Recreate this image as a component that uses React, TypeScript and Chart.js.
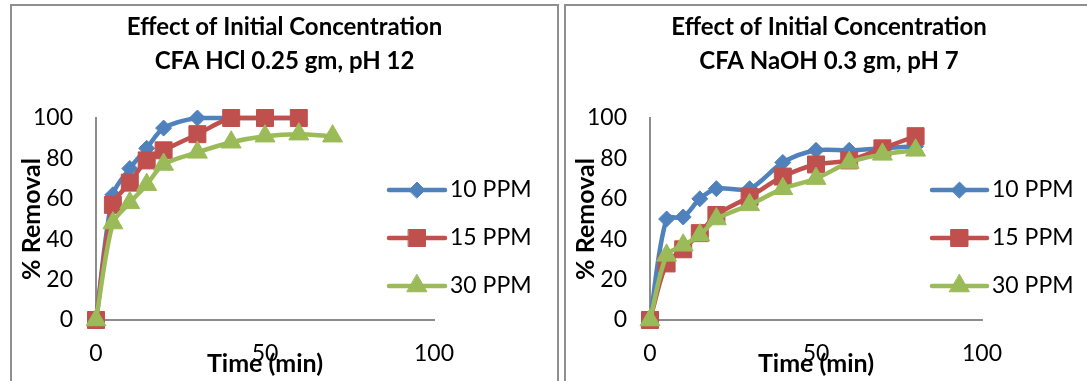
import React, { useEffect, useRef } from "react";
import { Chart, registerables } from "chart.js";

Chart.register(...registerables);

// Contact time (min) and % removal, CFA HCl 0.25 gm, pH 12
const hclTime10 = [0, 5, 10, 15, 20, 30, 40, 50, 60];
const hclTime15 = [0, 5, 10, 15, 20, 30, 40, 50, 60];
const hclTime30 = [0, 5, 10, 15, 20, 30, 40, 50, 60, 70];
const hclRemoval10 = [0, 62, 75, 85, 95, 100, 100, 100, 100];
const hclRemoval15 = [0, 57, 68, 79, 84, 92, 100, 100, 100];
const hclRemoval30 = [0, 48, 58, 67, 77, 83, 88, 91, 92, 91];

// Contact time (min) and % removal, CFA NaOH 0.3 gm, pH 7
const naohTime = [0, 5, 10, 15, 20, 30, 40, 50, 60, 70, 80];
const naohRemoval10 = [0, 50, 51, 60, 65, 65, 78, 84, 84, 85, 86];
const naohRemoval15 = [0, 28, 35, 43, 52, 61, 71, 77, 79, 85, 91];
const naohRemoval30 = [0, 32, 37, 42, 50, 57, 65, 70, 78, 82, 84];

const seriesNames = ["10 PPM", "15 PPM", "30 PPM"];
const xTickValues = [0, 50, 100];
const yTickValues = [0, 20, 40, 60, 80, 100];

const titleHeading = "Effect of Initial Concentration";
const hclSubtitle = "CFA HCl 0.25 gm, pH 12";
const naohSubtitle = "CFA NaOH 0.3 gm, pH 7";
const xAxisTitle = "Time (min)";
const yAxisTitle = "% Removal";

const FONT = "Lato, 'Open Sans', sans-serif";
const BLUE = "#4F81BD";
const RED = "#C0504D";
const GREEN = "#9BBB59";
const AXIS = "#8c8c8c";
const LINE_W = 4.5;
const LABEL_SIZE = 23;
const AXIS_TITLE_SIZE = 25;
const TITLE_SIZE = 24;

type MarkerStyle = "rectRot" | "rect" | "triangle";

interface Series {
  name: string;
  time: number[];
  removal: number[];
  color: string;
  style: MarkerStyle;
  radius: number;
}

interface Geom {
  width: number;
  height: number;
  plotLeft: number;
  plotRight: number;
  plotTop: number;
  plotBottom: number;
  titleX: number;
  titleY: number[];
  legendX0: number;
  legendX1: number;
  legendText: number;
  legendY: number;
  legendGap: number;
}

const markerStyles: MarkerStyle[] = ["rectRot", "rect", "triangle"];
const markerRadii = [8, 12, 11.5];
const seriesColors = [BLUE, RED, GREEN];

function buildSeries(times: number[][], values: number[][]): Series[] {
  return values.map((v, i) => ({
    name: seriesNames[i],
    time: times[i],
    removal: v,
    color: seriesColors[i],
    style: markerStyles[i],
    radius: markerRadii[i],
  }));
}

// Same marker geometry as Chart.js point styles, for the legend swatches
function drawMarker(ctx: CanvasRenderingContext2D, style: MarkerStyle, x: number, y: number, r: number) {
  ctx.beginPath();
  if (style === "rectRot") {
    ctx.moveTo(x - r, y);
    ctx.lineTo(x, y - r);
    ctx.lineTo(x + r, y);
    ctx.lineTo(x, y + r);
  } else if (style === "rect") {
    const s = r * Math.SQRT1_2;
    ctx.rect(x - s, y - s, 2 * s, 2 * s);
  } else {
    let a = 0;
    for (let k = 0; k < 3; k++) {
      const px = x + Math.sin(a) * r;
      const py = y - Math.cos(a) * r;
      if (k === 0) ctx.moveTo(px, py);
      else ctx.lineTo(px, py);
      a += (2 * Math.PI) / 3;
    }
  }
  ctx.closePath();
  ctx.fill();
  ctx.stroke();
}

function Panel(props: { left: number; boxWidth: number; subtitle: string; series: Series[]; geom: Geom }) {
  const ref = useRef<HTMLCanvasElement>(null);
  const { left, boxWidth, subtitle, series, geom } = props;

  useEffect(() => {
    const canvas = ref.current;
    if (!canvas) return;

    const decor = {
      id: "panelDecor",
      afterDraw(chart: Chart) {
        const ctx = chart.ctx;
        ctx.save();
        ctx.fillStyle = "#000";
        ctx.textAlign = "center";
        ctx.textBaseline = "middle";
        ctx.font = `bold ${TITLE_SIZE}px ${FONT}`;
        [titleHeading, subtitle].forEach((t, i) => ctx.fillText(t, geom.titleX, geom.titleY[i]));

        series.forEach((s, i) => {
          const y = geom.legendY + i * geom.legendGap;
          ctx.strokeStyle = s.color;
          ctx.fillStyle = s.color;
          ctx.lineWidth = LINE_W;
          ctx.lineCap = "round";
          ctx.beginPath();
          ctx.moveTo(geom.legendX0, y);
          ctx.lineTo(geom.legendX1, y);
          ctx.stroke();
          ctx.lineWidth = 1;
          drawMarker(ctx, s.style, (geom.legendX0 + geom.legendX1) / 2, y, s.radius);
          ctx.fillStyle = "#000";
          ctx.textAlign = "left";
          ctx.font = `${LABEL_SIZE}px ${FONT}`;
          ctx.fillText(s.name, geom.legendText, y);
        });
        ctx.restore();
      },
    };

    const chart = new Chart(canvas, {
      type: "line",
      data: {
        datasets: series.map((s, i) => ({
          label: s.name,
          data: s.time.map((t, k) => ({ x: t, y: s.removal[k] })),
          borderColor: s.color,
          backgroundColor: s.color,
          borderWidth: LINE_W,
          tension: 0.3,
          pointStyle: s.style,
          pointRadius: s.radius,
          pointBorderWidth: 1,
          pointBorderColor: s.color,
          pointBackgroundColor: s.color,
          order: 3 - i,
          clip: false,
        })),
      },
      options: {
        responsive: false,
        animation: false,
        events: [],
        layout: {
          padding: { left: 0, top: geom.plotTop, right: geom.width - geom.plotRight, bottom: 0 },
        },
        plugins: {
          legend: { display: false },
          tooltip: { enabled: false },
          title: { display: false },
        },
        scales: {
          x: {
            type: "linear",
            min: 0,
            max: 100,
            afterFit: (sc: any) => {
              sc.height = geom.height - geom.plotBottom;
            },
            afterBuildTicks: (sc: any) => {
              sc.ticks = xTickValues.map((v) => ({ value: v }));
            },
            ticks: {
              padding: 20,
              color: "#000",
              font: { family: FONT, size: LABEL_SIZE },
              maxRotation: 0,
              autoSkip: false,
            },
            grid: { display: false, drawTicks: false, tickLength: 0 },
            border: { display: true, color: AXIS, width: 2 },
            title: {
              display: true,
              text: xAxisTitle,
              color: "#000",
              font: { family: FONT, size: AXIS_TITLE_SIZE, weight: "bold" },
              padding: { top: 0, bottom: 2 },
            },
          },
          y: {
            type: "linear",
            min: 0,
            max: 100,
            afterFit: (sc: any) => {
              sc.width = geom.plotLeft;
            },
            afterBuildTicks: (sc: any) => {
              sc.ticks = yTickValues.map((v) => ({ value: v }));
            },
            ticks: {
              padding: 23,
              color: "#000",
              font: { family: FONT, size: LABEL_SIZE },
            },
            grid: { display: false, drawTicks: false, tickLength: 0 },
            border: { display: true, color: AXIS, width: 2 },
            title: {
              display: true,
              text: yAxisTitle,
              color: "#000",
              font: { family: FONT, size: AXIS_TITLE_SIZE, weight: "bold" },
              padding: { top: 5, bottom: 0 },
            },
          },
        },
      },
      plugins: [decor],
    } as any);

    return () => chart.destroy();
  }, []);

  return (
    <div
      style={{
        position: "absolute",
        left,
        top: 4,
        width: boxWidth,
        height: 420,
        border: "2px solid #8f8f8f",
        boxSizing: "border-box",
        background: "#fff",
      }}
    >
      <canvas ref={ref} width={geom.width} height={geom.height} style={{ display: "block", width: geom.width, height: geom.height }} />
    </div>
  );
}

const hclSeries = buildSeries([hclTime10, hclTime15, hclTime30], [hclRemoval10, hclRemoval15, hclRemoval30]);
const naohSeries = buildSeries([naohTime, naohTime, naohTime], [naohRemoval10, naohRemoval15, naohRemoval30]);

export default function App() {
  return (
    <div
      style={{
        position: "absolute",
        left: 0,
        top: 0,
        width: 1087,
        height: 381,
        overflow: "hidden",
        background: "#fff",
      }}
    >
      <Panel
        left={10}
        boxWidth={549}
        subtitle={hclSubtitle}
        series={hclSeries}
        geom={{
          width: 545,
          height: 375,
          plotLeft: 84,
          plotRight: 422,
          plotTop: 112,
          plotBottom: 314,
          titleX: 272.5,
          titleY: [21, 55],
          legendX0: 377,
          legendX1: 433,
          legendText: 438,
          legendY: 184,
          legendGap: 48,
        }}
      />
      <Panel
        left={564}
        boxWidth={530}
        subtitle={naohSubtitle}
        series={naohSeries}
        geom={{
          width: 526,
          height: 375,
          plotLeft: 84,
          plotRight: 416,
          plotTop: 112,
          plotBottom: 314,
          titleX: 263,
          titleY: [21, 55],
          legendX0: 366,
          legendX1: 421,
          legendText: 426,
          legendY: 184,
          legendGap: 48,
        }}
      />
    </div>
  );
}
